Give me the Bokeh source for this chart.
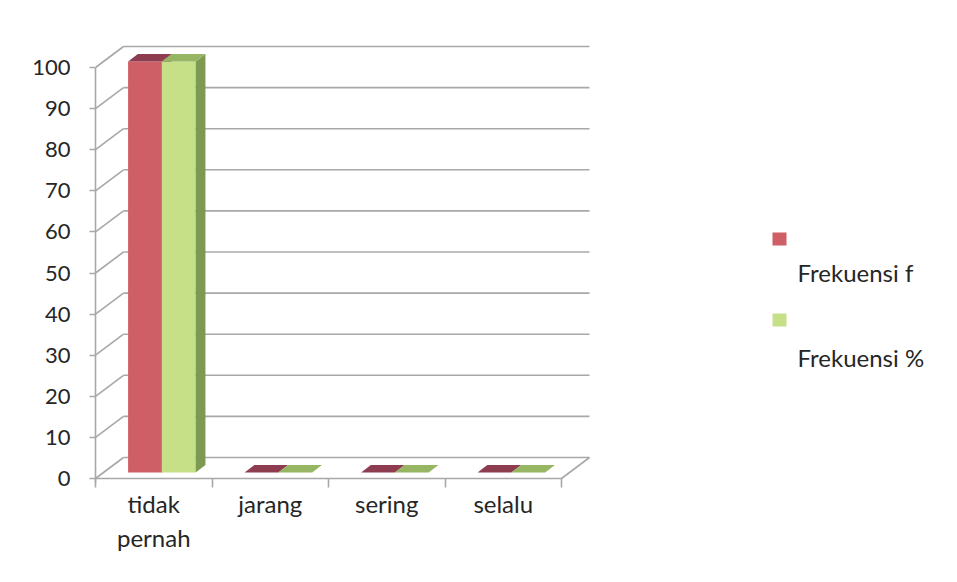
from bokeh.plotting import figure
from bokeh.models import FixedTicker, Label, Range1d
from bokeh.embed import file_html
from bokeh.resources import INLINE

# ---- data ----
categories = ["tidak pernah", "jarang", "sering", "selalu"]
cat_labels = ["tidak\npernah", "jarang", "sering", "selalu"]
frekuensi_f = [100, 0, 0, 0]
frekuensi_pct = [100, 0, 0, 0]
series_names = ["Frekuensi f", "Frekuensi %"]
y_ticks = [0, 10, 20, 30, 40, 50, 60, 70, 80, 90, 100]

# ---- geometry / style ----
W, H = 957, 582
LEFT, RIGHT, TOP, BOTTOM = 95, 5, 10, 100
PX_X = 116.5          # px per category
PX_Y = 4.11           # px per value unit
Y0_PX = 478           # pixel row of value 0 (front)
DX = 28 / PX_X        # depth offset (x, data units)
DY = 21 / PX_Y        # depth offset (y, data units)
F0, F1 = 0.29, 0.64   # bar front/back depth fraction
BAR_W = 0.29
FONT = "Lato"
TXT = "#262626"
GRID = "#a8a8a8"

frame_w = W - LEFT - RIGHT
x_start = 0.0
x_end = frame_w / PX_X
y_start = -(H - BOTTOM - Y0_PX) / PX_Y
y_end = (Y0_PX - TOP) / PX_Y

p = figure(width=W, height=H, output_backend="svg", toolbar_location=None,
           x_range=Range1d(x_start, x_end), y_range=Range1d(y_start, y_end),
           min_border_left=LEFT, min_border_right=RIGHT,
           min_border_top=TOP, min_border_bottom=BOTTOM)
p.outline_line_color = None
p.xgrid.visible = False
p.ygrid.visible = False
p.background_fill_color = "white"
p.border_fill_color = "white"

n = len(categories)

# back wall grid lines
p.segment(x0=[DX] * len(y_ticks), y0=[v + DY for v in y_ticks],
          x1=[n + DX] * len(y_ticks), y1=[v + DY for v in y_ticks],
          line_color=GRID, line_width=1.6)
# left wall diagonals
p.segment(x0=[0] * len(y_ticks), y0=y_ticks,
          x1=[DX] * len(y_ticks), y1=[v + DY for v in y_ticks],
          line_color=GRID, line_width=1.6)
# floor outline
p.line(x=[0, n, n + DX], y=[0, 0, DY], line_color=GRID, line_width=1.6)

# bars
series = [frekuensi_f, frekuensi_pct]
front_col = ["#cf5f67", "#c6e088"]
top_col = ["#8e3d50", "#96b663"]
side_col = ["#8a3a48", "#7d9a52"]
for s, vals in enumerate(series):
    fx, fy, tx, ty, sx, sy = [], [], [], [], [], []
    for i, v in enumerate(vals):
        a = i + 0.5 - BAR_W + s * BAR_W
        b = a + BAR_W
        ox0, oy0 = F0 * DX, F0 * DY
        ox1, oy1 = F1 * DX, F1 * DY
        if v > 0:
            fx.append([a + ox0, b + ox0, b + ox0, a + ox0])
            fy.append([oy0, oy0, v + oy0, v + oy0])
            sx.append([b + ox0, b + ox1, b + ox1, b + ox0])
            sy.append([oy0, oy1, v + oy1, v + oy0])
        tx.append([a + ox0, b + ox0, b + ox1, a + ox1])
        ty.append([v + oy0, v + oy0, v + oy1, v + oy1])
    if fx:
        p.patches(xs=fx, ys=fy, fill_color=front_col[s], line_color=None)
        p.patches(xs=sx, ys=sy, fill_color=side_col[s], line_color=None)
    p.patches(xs=tx, ys=ty, fill_color=top_col[s], line_color=None)

# y axis
ya = p.yaxis[0]
ya.ticker = FixedTicker(ticks=y_ticks, minor_ticks=[])
ya.bounds = (y_start, 100)
ya.axis_line_color = GRID
ya.axis_line_width = 1.6
ya.major_tick_line_color = GRID
ya.major_tick_line_width = 1.6
ya.major_tick_in = 0
ya.major_tick_out = 6
ya.major_label_standoff = 19
ya.major_label_text_font = FONT
ya.major_label_text_font_size = "22px"
ya.major_label_text_color = TXT

# x axis
xa = p.xaxis[0]
centers = [i + 0.5 for i in range(n)]
xa.ticker = FixedTicker(ticks=centers, minor_ticks=list(range(n + 1)))
xa.major_label_overrides = {c: lab for c, lab in zip(centers, cat_labels)}
xa.bounds = (0, n)
xa.axis_line_color = None
xa.major_tick_line_color = None
xa.major_tick_out = 0
xa.major_tick_in = 0
xa.minor_tick_line_color = GRID
xa.minor_tick_line_width = 1.6
xa.minor_tick_in = 4
xa.minor_tick_out = 5
xa.major_label_standoff = 1
xa.major_label_text_font = FONT
xa.major_label_text_font_size = "24px"
xa.major_label_text_color = TXT

# legend (Excel-style, key above text)
def px2x(px):
    return (px - LEFT) / PX_X

def py2y(py):
    return (Y0_PX - py) / PX_Y

leg_rows = [(232, 272), (313, 357)]
for s, (ky, ty_) in enumerate(leg_rows):
    p.quad(left=[px2x(772)], right=[px2x(786)], top=[py2y(ky)], bottom=[py2y(ky + 13)],
           fill_color=front_col[s], line_color=None)
    p.add_layout(Label(x=px2x(797), y=py2y(ty_), text=series_names[s],
                       text_font=FONT, text_font_size="24px", text_color=TXT,
                       text_baseline="middle", text_align="left"))

open("out.html", "w").write(file_html(p, INLINE))
